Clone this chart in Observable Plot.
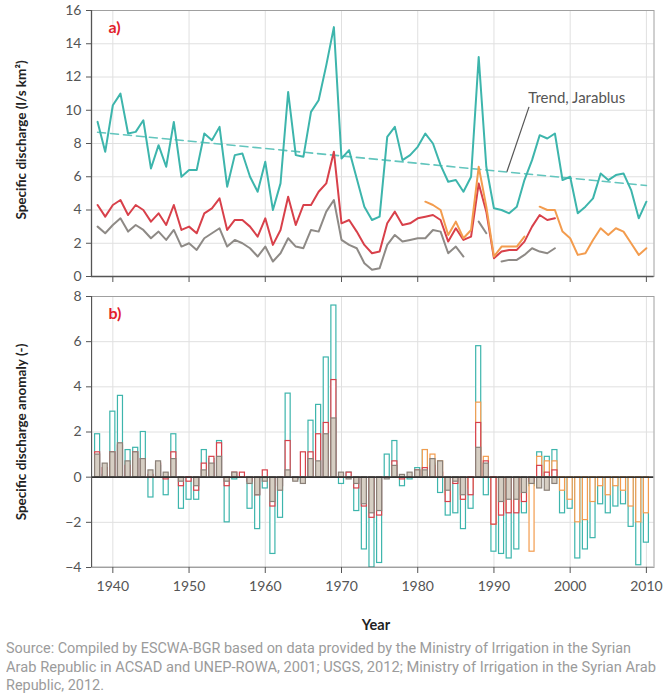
<!DOCTYPE html>
<html><head><meta charset="utf-8">
<script src="https://cdn.jsdelivr.net/npm/d3@7"></script>
<script src="https://cdn.jsdelivr.net/npm/@observablehq/plot@0.6"></script>
<style>
body{margin:0;background:#fff;}
#wrap{position:relative;width:665px;height:695px;font-family:Lato,"Open Sans",sans-serif;overflow:hidden;}
#a,#b{position:absolute;left:0;}
#a{top:0px;}
#b{top:286px;}
.ytitle{position:absolute;font-weight:bold;font-size:13.5px;color:#222;white-space:nowrap;transform:translate(-50%,-50%) rotate(-90deg);}
#xtitle{position:absolute;left:376px;top:624px;transform:translate(-50%,-50%);font-weight:bold;font-size:14.5px;color:#222;}
#source{position:absolute;left:6px;top:640px;font-family:Roboto,"DejaVu Sans",sans-serif;font-size:14.5px;line-height:18.5px;color:#9b9b9b;white-space:nowrap;}
#source span{display:block;transform-origin:0 50%;width:max-content;}
</style></head>
<body>
<div id="wrap">
  <div id="a"></div>
  <div id="b"></div>
  <div class="ytitle" style="left:21px;top:140px;">Specific discharge (l/s km²)</div>
  <div class="ytitle" style="left:21px;top:432px;">Specific discharge anomaly (-)</div>
  <div id="xtitle">Year</div>
  <div id="source"><span data-w="625">Source: Compiled by ESCWA-BGR based on data provided by the Ministry of Irrigation in the Syrian</span><span data-w="650">Arab Republic in ACSAD and UNEP-ROWA, 2001; USGS, 2012; Ministry of Irrigation in the Syrian Arab</span><span data-w="98">Republic, 2012.</span></div>
</div>
<script>
// ---------- data ----------
const years = d3.range(1938, 2011);            // 1938..2010
const redYears = d3.range(1938, 1999);         // 1938..1998
const orangeYears = d3.range(1981, 2011);      // 1981..2010
const decades = [1940, 1950, 1960, 1970, 1980, 1990, 2000, 2010];
const yTicksA = [0, 2, 4, 6, 8, 10, 12, 14, 16];
const yTicksB = [-4, -2, 0, 2, 4, 6, 8];

// panel a: specific discharge (l/s km2)
const jarablus = [9.3,7.5,10.3,11.0,8.6,8.7,9.4,6.5,7.9,6.6,9.3,6.0,6.4,6.4,8.6,8.2,9.0,5.4,7.3,7.4,
  6.0,5.1,6.9,4.0,5.6,11.1,7.3,7.2,9.9,10.6,12.7,15.0,7.1,7.6,5.9,4.2,3.4,3.6,8.4,9.0,
  7.0,7.3,7.8,8.6,8.0,6.7,5.7,5.8,5.1,6.0,13.2,6.6,4.1,4.0,3.8,4.2,5.8,7.0,8.5,8.3,
  8.6,5.8,6.0,3.8,4.2,4.7,6.2,5.8,6.1,6.2,5.2,3.5,4.5];
const redSeries = [4.3,3.6,4.3,4.6,3.7,4.3,4.0,3.3,3.8,3.1,4.3,2.8,3.0,2.6,3.8,4.1,4.7,2.8,3.4,3.4,
  3.0,2.4,3.5,1.9,2.8,4.8,3.1,4.3,4.3,5.1,5.6,7.5,3.2,3.4,2.7,1.9,1.4,1.5,3.2,3.9,
  3.1,3.2,3.5,3.6,3.7,3.4,2.1,2.9,2.2,2.4,5.6,3.9,1.1,1.5,1.6,1.6,2.1,3.0,3.7,3.4,3.5];
const graySeries = [3.0,2.6,3.1,3.5,2.7,3.1,2.8,2.3,2.7,2.2,2.8,1.8,2.0,1.6,2.3,2.6,2.9,1.8,2.2,2.0,
  1.7,1.2,1.8,0.9,1.4,2.3,1.8,1.7,2.8,2.7,3.9,4.6,2.2,1.9,1.7,0.8,0.4,0.5,1.9,2.5,
  2.1,2.2,2.3,2.3,2.8,2.7,1.4,1.8,1.2,null,3.3,2.6,null,0.9,1.0,1.0,1.3,1.7,1.5,1.4,1.7];
const orangeSeries = [4.5,4.3,4.0,2.5,3.3,2.3,2.8,6.6,4.2,1.2,1.8,1.8,1.8,2.4,null,
  4.2,4.0,4.0,2.7,2.3,1.3,1.4,2.2,2.9,2.5,2.9,2.7,2.0,1.3,1.7];
const trendYears = [1938, 2010];
const trendJarablus = [8.68, 5.47];
const trendLabel = {text: "Trend, Jarablus", year: 1994.5, v: 10.75, lineYear1: 1994.6, lineV1: 10.2, lineYear2: 1991.7, lineV2: 6.3};

// panel b: specific discharge anomaly (-)
const jarablusAnom = [1.9,0.1,2.9,3.6,1.2,1.3,2.0,-0.9,0.5,-0.8,1.9,-1.4,-1.0,-1.0,1.2,0.8,1.6,-2.0,-0.1,0.0,
  -1.4,-2.3,-0.5,-3.4,-1.8,3.7,-0.1,-0.2,2.5,3.2,5.3,7.6,-0.3,0.2,-1.5,-3.2,-4.0,-3.8,1.0,1.6,
  -0.4,-0.1,0.4,1.2,0.6,-0.7,-1.7,-1.6,-2.3,-1.4,5.8,-0.8,-3.3,-3.4,-3.6,-3.2,-1.6,-0.4,1.1,0.9,
  1.2,-1.6,-1.4,-3.6,-3.2,-2.7,-1.2,-1.6,-1.3,-1.2,-2.2,-3.9,-2.9];
const redAnom = [1.1,0.4,1.1,1.4,0.5,1.1,0.8,0.1,0.6,-0.1,1.1,-0.4,-0.2,-0.6,0.6,0.9,1.5,-0.4,0.2,0.2,
  -0.2,-0.8,0.3,-1.3,-0.4,1.6,-0.1,1.1,1.1,1.9,2.4,4.3,0.0,0.2,-0.5,-1.3,-1.8,-1.7,0.0,0.7,
  -0.1,0.0,0.3,0.4,0.5,0.2,-1.1,-0.3,-1.0,-0.8,2.4,0.7,-2.1,-1.7,-1.6,-1.6,-1.1,-0.2,0.5,0.2,0.3];
const grayAnom = [1.0,0.6,1.1,1.5,0.7,1.1,0.8,0.3,0.7,0.2,0.8,-0.2,0.0,-0.4,0.3,0.6,0.9,-0.2,0.2,0.0,
  -0.3,-0.8,-0.2,-1.1,-0.6,0.3,-0.2,-0.3,0.8,0.7,1.9,2.6,0.2,-0.1,-0.3,-1.2,-1.6,-1.5,-0.1,0.5,
  0.1,0.2,0.3,0.3,0.8,0.7,-0.6,-0.2,-0.8,null,1.3,0.6,null,-1.1,-1.0,-1.0,-0.7,-0.3,-0.5,-0.6,-0.3];
const orangeAnom = [1.2,1.0,0.7,-0.8,0.0,-1.0,-0.5,3.3,0.9,-2.1,-1.5,-1.5,-1.5,-0.9,-3.3,
  0.9,0.7,0.7,-0.6,-1.0,-2.0,-1.9,-1.1,-0.4,-0.8,-0.4,-0.6,-1.3,-2.0,-1.6];

// ---------- helpers ----------
const rows = (ys, vals) => ys.map((year, i) => ({year, v: vals[i]}));
const barRows = (ys, vals) => rows(ys, vals).filter(d => d.v != null);
const xDomain = [1937.2, 2011];
const halfBar = 0.33;

const C = {teal: "#3db5ac", trend: "#62c5bd", red: "#d8404a", gray: "#8e8a86", orange: "#f39c4e",
  grayFill: "#d6cec3", grayStroke: "#8a8078", grid: "#e0e0e0", frame: "#a0a0a0", axis: "#555", label: "#e2202b"};

const style = {fontFamily: "Lato, 'Open Sans', sans-serif", fontSize: "13.5px", color: "#555", background: "transparent", overflow: "visible"};

// ---------- panel a ----------
const plotA = Plot.plot({
  width: 665, height: 286,
  marginLeft: 91, marginRight: 11.5, marginTop: 10, marginBottom: 10,
  style,
  x: {domain: xDomain},
  y: {domain: [0, 16]},
  marks: [
    Plot.gridX(decades, {stroke: C.grid, strokeOpacity: 1}),
    Plot.gridY(yTicksA, {stroke: C.grid, strokeOpacity: 1}),
    Plot.frame({stroke: C.frame}),
    Plot.line(rows(trendYears, trendJarablus), {x: "year", y: "v", stroke: C.trend, strokeWidth: 1.6, strokeDasharray: "8,5"}),
    Plot.link([trendLabel], {x1: "lineYear1", y1: "lineV1", x2: "lineYear2", y2: "lineV2", stroke: "#555", strokeWidth: 1.2}),
    Plot.text([trendLabel], {x: "year", y: "v", text: "text", textAnchor: "start", fill: "#555", fontSize: 15}),
    Plot.line(rows(redYears, graySeries), {x: "year", y: "v", stroke: C.gray, strokeWidth: 2}),
    Plot.line(rows(redYears, redSeries), {x: "year", y: "v", stroke: C.red, strokeWidth: 2}),
    Plot.line(rows(orangeYears, orangeSeries), {x: "year", y: "v", stroke: C.orange, strokeWidth: 2}),
    Plot.line(rows(years, jarablus), {x: "year", y: "v", stroke: C.teal, strokeWidth: 2}),
    Plot.ruleX([xDomain[0]], {stroke: C.axis, strokeWidth: 1.3}),
    Plot.ruleY([0], {stroke: C.axis, strokeWidth: 1.3}),
    Plot.axisY({ticks: yTicksA, tickSize: 5, tickPadding: 5, label: null, fontSize: 14}),
    Plot.axisX({ticks: decades, tickSize: 6, tickFormat: () => "", label: null}),
    Plot.text(["a)"], {frameAnchor: "top-left", dx: 17, dy: 17, lineAnchor: "middle", textAnchor: "start", fill: C.label, fontWeight: "bold", fontSize: 16})
  ]
});
document.getElementById("a").append(plotA);

// ---------- panel b ----------
const bar = (data, fill, stroke) => Plot.rectY(data, {
  x1: d => d.year - halfBar, x2: d => d.year + halfBar, y1: 0, y2: "v",
  fill, stroke, strokeWidth: 1.2
});
const plotB = Plot.plot({
  width: 665, height: 305,
  marginLeft: 91, marginRight: 11.5, marginTop: 10, marginBottom: 24,
  style,
  clip: true,
  x: {domain: xDomain},
  y: {domain: [-4, 8]},
  marks: [
    Plot.gridX(decades, {stroke: C.grid, strokeOpacity: 1}),
    Plot.gridY(yTicksB, {stroke: C.grid, strokeOpacity: 1}),
    Plot.frame({stroke: C.frame}),
    bar(barRows(years, jarablusAnom), "white", C.teal),
    bar(barRows(orangeYears, orangeAnom), "white", C.orange),
    bar(barRows(redYears, redAnom), "white", C.red),
    bar(barRows(redYears, grayAnom), C.grayFill, C.grayStroke),
    Plot.ruleY([0], {stroke: "#333", strokeWidth: 1.6}),
    Plot.ruleX([xDomain[0]], {stroke: C.axis, strokeWidth: 1.3}),
    Plot.ruleY([-4], {stroke: C.axis, strokeWidth: 1.3}),
    Plot.axisY({ticks: yTicksB, tickSize: 5, tickPadding: 5, label: null, fontSize: 14}),
    Plot.axisX({ticks: decades, tickSize: 6, tickPadding: 8, tickFormat: "d", label: null, fontSize: 14}),
    Plot.text(["b)"], {frameAnchor: "top-left", dx: 17, dy: 17, lineAnchor: "middle", textAnchor: "start", fill: C.label, fontWeight: "bold", fontSize: 16})
  ]
});
document.getElementById("b").append(plotB);

// fit source lines to the reference widths
document.querySelectorAll("#source span").forEach(s => {
  const target = +s.dataset.w;
  const w = s.getBoundingClientRect().width;
  if (w > 0) s.style.transform = `scaleX(${(target / w).toFixed(4)})`;
});
</script>
</body></html>
